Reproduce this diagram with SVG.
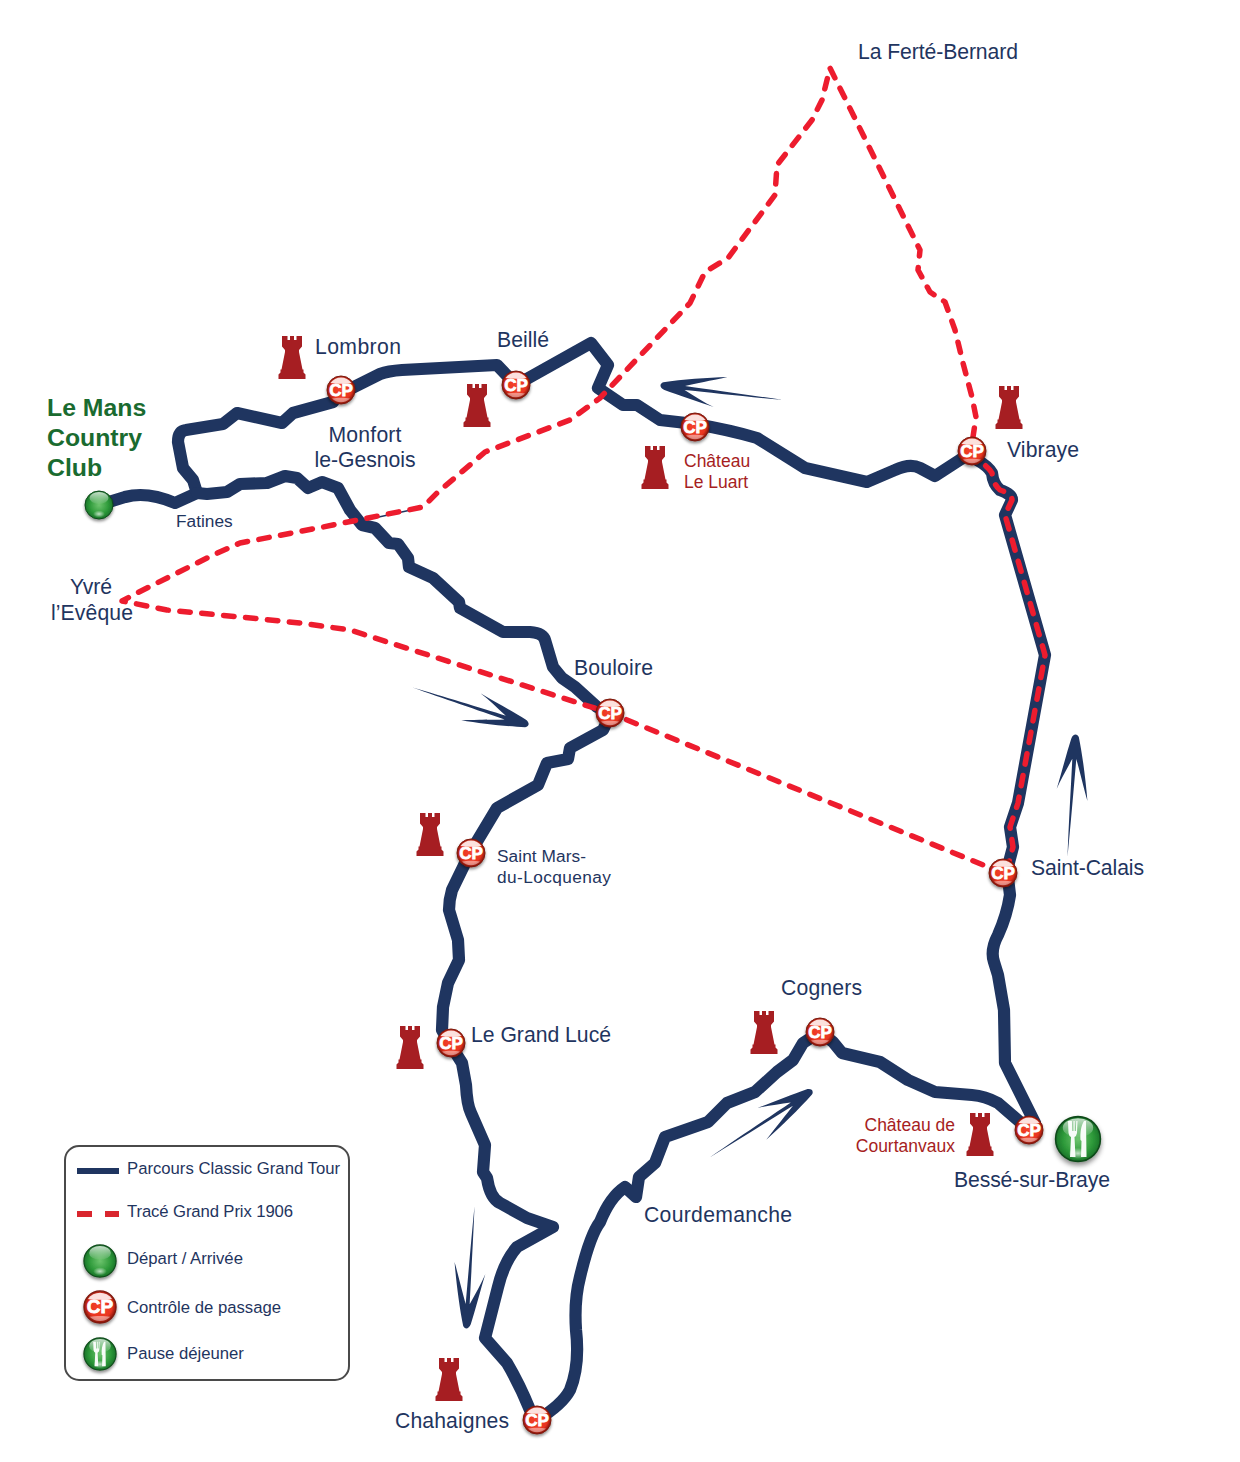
<svg xmlns="http://www.w3.org/2000/svg" width="1240" height="1462" viewBox="0 0 1240 1462">
<style>
text{font-family:"Liberation Sans",Arial,sans-serif;fill:#1f3560}
.l{font-size:21.2px}
.s{font-size:17.3px}
.k{font-size:16.7px}
.r{font-size:17.5px;fill:#a61e22}
.g{font-size:24.8px;font-weight:bold;fill:#1a6b30}
.m{text-anchor:middle}
.e{text-anchor:end}
.cp{font-size:17px;font-weight:bold;fill:#fff;text-anchor:middle;stroke:#fff;stroke-width:.8px}
.route{fill:none;stroke:#1f3560;stroke-width:12.2;stroke-linejoin:round;stroke-linecap:round}
.gp{fill:none;stroke:#ed1c2e;stroke-width:5.500;stroke-dasharray:10.500 11.500;stroke-linejoin:round;stroke-linecap:round}
.t{fill:#a61e22}
.a{fill:#1f3560}
</style>
<defs>
<radialGradient id="gg" cx=".5" cy=".5" r=".55"><stop offset="0" stop-color="#6ec46e"/><stop offset=".6" stop-color="#2e9a3a"/><stop offset="1" stop-color="#146a24"/></radialGradient>
<linearGradient id="gh" x1="0" y1="0" x2="0" y2="1"><stop offset="0" stop-color="#fff" stop-opacity=".75"/><stop offset="1" stop-color="#fff" stop-opacity=".05"/></linearGradient>
<radialGradient id="gb" cx=".5" cy=".5" r=".5"><stop offset="0" stop-color="#fff" stop-opacity=".7"/><stop offset="1" stop-color="#fff" stop-opacity="0"/></radialGradient>
<radialGradient id="rg" cx=".5" cy=".48" r=".52"><stop offset="0" stop-color="#f4432a"/><stop offset=".72" stop-color="#e8341f"/><stop offset="1" stop-color="#7d1208"/></radialGradient>
<filter id="sh" x="-30%" y="-30%" width="160%" height="170%"><feDropShadow dx="0" dy="2" stdDeviation="1.500" flood-color="#000" flood-opacity=".45"/></filter>
<path id="tower" d="M-10-43h5.500v4h2.500v-4h4v4h2.500v-4h5.500v10.500l-3 3.500v2l3.500 17.500h1v3l2 2v4.500h-27v-4.500l2-2v-3h1l3.500-17.500v-2l-3-3.500z"/>
<path id="arrow" d="M-122 0C-90-1-50-1.500-24-2-35-7-45-12-55-15.500-40-12-18-8-4-4.500 1-3 2 1-2 3-20 8-45 13-65 16-48 10-35 6-24 2-50 1.500-90 1-122 0z"/>
<g id="cpbase"><circle r="14" fill="url(#rg)" stroke="#7d1a10" stroke-width="1" filter="url(#sh)"/><path d="M-10.500-7A12.800 12.800 0 0 1 10.500-7C5-6-5-6-10.500-7z" fill="#fff" opacity=".85"/><path d="M-9 8.500A12.800 12.800 0 0 0 9 8.500C4 7.500-4 7.500-9 8.500z" fill="#fff" opacity=".45"/></g>
<g id="greenbase"><circle r="14" fill="url(#gg)" stroke="#0f4a1a" stroke-width="1" filter="url(#sh)"/><ellipse cy="-7" rx="9.500" ry="6" fill="url(#gh)"/><ellipse cy="9" rx="6" ry="3.500" fill="url(#gb)"/></g>
<path id="fork" d="M-10-18l.5 12q.5 3 2.500 4l-1 20h5.500l-1-20q2-1 2.500-4l.5-12h-1.200l-.5 10h-1l-.1-10h-1.200l-.1 10h-1l-.5-10zM6-18c-3 5-4 12-3.500 19l1 1-.5 16h5.500l-.5-36z" fill="#fff" opacity=".95"/>
</defs>
<rect id="bg" width="1240" height="1462" fill="#fff"/>
<g id="connectors">
<path class="route" d="M99 505L125 497Q147 491 175 503L197 493 193 480 183 468 178 442Q178 431 186 430L223 424 237 413 282 423 293 413 333 402 341 390 352 388 380 374Q388 371 402 370L497 365 516 385 591 343 608 365 598 388 623 405 637 405 660 420 695 424Q730 430 757 438L805 468 867 482 895 470Q910 463 920 468L935 476 972 452 977 460Q988 466 992 473 993 484 1000 490 1012 494 1012 500L1005 515 1045 655 1018 803 1010 827 1013 847 1007 870 1010 895Q1007 915 998 935 990 950 994 962L998 975 1004 1010 1005 1063 1035 1123"/>
<path class="route" d="M1027 1128L998 1103Q985 1096 972 1095L935 1092 908 1080 880 1062 842 1053 833 1042 820 1032 803 1043 793 1060 777 1072 755 1092 727 1103 708 1122 665 1137 655 1163 639 1177 636 1197 625 1187Q610 1197 600 1222 590 1235 580 1277 574 1300 576 1330 580 1365 570 1390 562 1405 537 1420L530 1410Q520 1385 507 1363L485 1338 498 1287Q504 1262 517 1247L553 1227 527 1218 500 1203Q490 1198 487 1178L483 1172 485 1145 471 1113Q467 1105 466 1085L462 1063 450 1044 442 1030 443 1007 448 983 459 960 458 940 449 910Q449 900 452 890L470 853 497 808 538 785 547 763 568 759 570 748 603 730 611 713 597 707 575 687 562 678 553 667 545 640Q543 633 530 632L503 632 460 608 459 602 433 578 409 567 408 558 398 544 389 543 375 528 362 525 350 510 338 488 322 482 308 488 297 478 285 476 267 483 240 484 227 492 207 494 197 493"/>
<path d="M365 520L420 508" fill="none" stroke="#1f3560" stroke-width="1.500"/>
<path class="gp" d="M1003 873L610 713 350 630 300 623 240 617 167 610 122 601 137 593 213 555 240 543 323 527 423 507 437 493 485 452 570 420 600 398 690 303 705 272 728 258 775 195 777 165 812 120 822 100 830 68 920 250 918 270 930 292 945 302 955 330 963 363 972 397 976 417 973 437 972 452 977 460Q988 466 992 473 993 484 1000 490 1012 494 1012 500L1005 515 1045 655 1018 803 1010 827 1013 847 1007 870"/>
<use class="a" href="#arrow" transform="translate(528 725) rotate(18)"/>
<use class="a" href="#arrow" transform="translate(661 385) rotate(187)"/>
<use class="a" href="#arrow" transform="translate(1076 735) rotate(-86)"/>
<use class="a" href="#arrow" transform="translate(812 1091) rotate(-33)"/>
<use class="a" href="#arrow" transform="translate(466 1328) rotate(94)"/>
</g>
<g id="start"><use href="#greenbase" transform="translate(99 505)"/><text class="g" x="47" y="416">Le Mans</text><text class="g" x="47" y="446">Country</text><text class="g" x="47" y="476">Club</text></g>
<g id="fatines"><text class="s" x="176" y="527">Fatines</text></g>
<g id="lombron"><use class="t" href="#tower" transform="translate(292 379)"/><use href="#cpbase" transform="translate(341 390)"/><text class="cp" x="341" y="396">CP</text><text class="l" x="315" y="354" textLength="86">Lombron</text></g>
<g id="monfort"><text class="l m" x="365" y="442" textLength="73">Monfort</text><text class="l m" x="365" y="467" textLength="101">le-Gesnois</text></g>
<g id="beille"><use class="t" href="#tower" transform="translate(477 427)"/><use href="#cpbase" transform="translate(516 385)"/><text class="cp" x="516" y="391">CP</text><text class="l" x="497" y="347" textLength="52">Beillé</text></g>
<g id="luart"><use class="t" href="#tower" transform="translate(655 489)"/><use href="#cpbase" transform="translate(695 427)"/><text class="cp" x="695" y="433">CP</text><text class="r" x="684" y="467">Château</text><text class="r" x="684" y="488">Le Luart</text></g>
<g id="vibraye"><use class="t" href="#tower" transform="translate(1009 429)"/><use href="#cpbase" transform="translate(972 451)"/><text class="cp" x="972" y="457">CP</text><text class="l" x="1007" y="457" textLength="72">Vibraye</text></g>
<g id="ferte"><text class="l" x="858" y="59" textLength="160">La Ferté-Bernard</text></g>
<g id="yvre"><text class="l m" x="91" y="594" textLength="42">Yvré</text><text class="l m" x="92" y="620" textLength="82">l’Evêque</text></g>
<g id="bouloire"><use href="#cpbase" transform="translate(610 713)"/><text class="cp" x="610" y="719">CP</text><text class="l" x="574" y="675" textLength="79">Bouloire</text></g>
<g id="saintmars"><use class="t" href="#tower" transform="translate(430 856)"/><use href="#cpbase" transform="translate(471 853)"/><text class="cp" x="471" y="859">CP</text><text class="s" x="497" y="862" textLength="89">Saint Mars-</text><text class="s" x="497" y="883" textLength="114">du-Locquenay</text></g>
<g id="saintcalais"><use href="#cpbase" transform="translate(1003 873)"/><text class="cp" x="1003" y="879">CP</text><text class="l" x="1031" y="875" textLength="113">Saint-Calais</text></g>
<g id="grandluce"><use class="t" href="#tower" transform="translate(410 1069)"/><use href="#cpbase" transform="translate(451 1043)"/><text class="cp" x="451" y="1049">CP</text><text class="l" x="471" y="1042" textLength="140">Le Grand Lucé</text></g>
<g id="cogners"><use class="t" href="#tower" transform="translate(764 1054)"/><use href="#cpbase" transform="translate(820 1032)"/><text class="cp" x="820" y="1038">CP</text><text class="l" x="781" y="995" textLength="81">Cogners</text></g>
<g id="courtanvaux"><use class="t" href="#tower" transform="translate(980 1156)"/><text class="r e" x="955" y="1131">Château de</text><text class="r e" x="955" y="1152">Courtanvaux</text></g>
<g id="besse"><use href="#cpbase" transform="translate(1029 1130)"/><text class="cp" x="1029" y="1136">CP</text><use href="#greenbase" transform="translate(1078 1139) scale(1.600)"/><use href="#fork" transform="translate(1078 1139)"/><text class="l" x="954" y="1187" textLength="156">Bessé-sur-Braye</text></g>
<g id="courdemanche"><text class="l" x="644" y="1222" textLength="148">Courdemanche</text></g>
<g id="chahaignes"><use class="t" href="#tower" transform="translate(449 1401)"/><use href="#cpbase" transform="translate(537 1420)"/><text class="cp" x="537" y="1426">CP</text><text class="l" x="395" y="1428" textLength="114">Chahaignes</text></g>
<g id="legend">
<rect x="65" y="1146" width="284" height="234" rx="14" fill="#fff" stroke="#4a4a4a" stroke-width="2"/>
<path d="M77 1171H119" stroke="#1f3560" stroke-width="6" fill="none"/>
<path d="M77 1214H92M105 1214H119" stroke="#d9262e" stroke-width="6" fill="none"/>
<text class="k" x="127" y="1174">Parcours Classic Grand Tour</text>
<text class="k" x="127" y="1217" textLength="166">Tracé Grand Prix 1906</text>
<use href="#greenbase" transform="translate(100 1261) scale(1.150)"/>
<text class="k" x="127" y="1264">Départ / Arrivée</text>
<use href="#cpbase" transform="translate(100 1307) scale(1.150)"/>
<text class="cp" x="100" y="1313" style="font-size:19px">CP</text>
<text class="k" x="127" y="1313">Contrôle de passage</text>
<use href="#greenbase" transform="translate(100 1354) scale(1.150)"/>
<use href="#fork" transform="translate(100 1354) scale(.68)"/>
<text class="k" x="127" y="1359">Pause déjeuner</text>
</g>
</svg>
